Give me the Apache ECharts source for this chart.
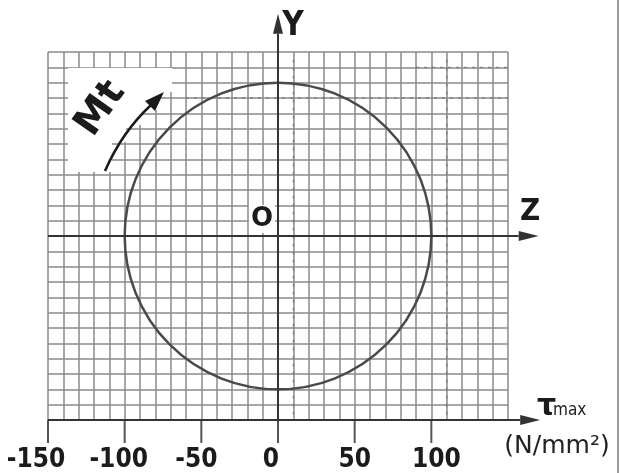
<!DOCTYPE html>
<html><head><meta charset="utf-8">
<script src="https://cdn.jsdelivr.net/npm/echarts@6/dist/echarts.min.js"></script>
<style>html,body{margin:0;padding:0;background:#fff}#c{width:622px;height:473px}</style>
</head><body><div id="c"></div>
<script>
// ---- data ----
const tickValues = [-150, -100, -50, 0, 50, 100];
const xLimits = [-150, 150];
const yLimits = [-120, 120];
const gridStep = 10;
const circleData = [[0, 0, 100]]; // centre z, centre y, radius (N/mm2)
const labels = { z: 'Z', y: 'Y', o: 'O', tau: 'τ', tauSub: 'max', unit: '(N/mm²)', moment: 'Mt' };

// ---- style / layout ----
const labelShift = [-12, -6, -5, -7, 0, 5];
const FONT_C = "'DejaVu Sans Condensed','DejaVu Sans',sans-serif";
const FONT = "'DejaVu Sans',sans-serif";
const INK = '#1b1b1b';
const GRIDC = '#8a8a8a';

const chart = echarts.init(document.getElementById('c'), null, { renderer: 'canvas' });
chart.setOption({
  animation: false,
  backgroundColor: '#fff',
  grid: { left: 48, right: 114, top: 52, bottom: 53, containLabel: false },
  xAxis: {
    type: 'value', min: xLimits[0], max: xLimits[1], interval: gridStep,
    axisLine: { show: false, onZero: false }, axisTick: { show: false }, axisLabel: { show: false },
    splitLine: { show: true, lineStyle: { color: GRIDC, width: 1.5 } }
  },
  yAxis: {
    type: 'value', min: yLimits[0], max: yLimits[1], interval: gridStep,
    axisLine: { show: false, onZero: false }, axisTick: { show: false }, axisLabel: { show: false },
    splitLine: { show: true, lineStyle: { color: GRIDC, width: 1.5 } }
  },
  series: [
    {
      type: 'custom', coordinateSystem: 'cartesian2d',
      data: circleData, clip: false, z: 5, silent: true,
      encode: { x: 0, y: 1 },
      renderItem: (params, api) => {
        const c = api.coord([api.value(0), api.value(1)]);
        const r = api.size([api.value(2), 0])[0];
        return { type: 'circle', shape: { cx: c[0], cy: c[1], r: r },
          style: { fill: 'none', stroke: '#4a4a4a', lineWidth: 2.5 } };
      }
    },
    {
      // labelled ticks on the bottom (tau) axis, placed through the x scale
      type: 'custom', coordinateSystem: 'cartesian2d', clip: false, z: 6, silent: true,
      data: tickValues.map((v, i) => [v, yLimits[0], i]),
      encode: { x: 0, y: 1 },
      renderItem: (params, api) => {
        const p = api.coord([api.value(0), api.value(1)]);
        const i = api.value(2);
        return { type: 'group', children: [
          { type: 'rect', shape: { x: p[0] - 1, y: p[1], width: 2, height: 23 }, style: { fill: '#555' } },
          { type: 'text', x: p[0] + labelShift[i], y: p[1] + 40, style: {
              text: String(api.value(0)), fontSize: 26, fontWeight: 'bold', fontFamily: FONT_C,
              fill: INK, align: 'center', verticalAlign: 'middle' } }
        ] };
      }
    }
  ]
});

// ---- decorations (axes with arrows, labels, annotation) ----
const P = (x, y) => chart.convertToPixel({ gridIndex: 0 }, [x, y]);
function arrow(p0, p1, len, hw, color, width) {
  const dx = p1[0] - p0[0], dy = p1[1] - p0[1];
  const L = Math.hypot(dx, dy), ux = dx / L, uy = dy / L;
  const b = [p1[0] - ux * len, p1[1] - uy * len];
  return [
    { type: 'line', z: 20, shape: { x1: p0[0], y1: p0[1], x2: b[0], y2: b[1] }, style: { stroke: color, lineWidth: width } },
    { type: 'polygon', z: 20, shape: { points: [p1, [b[0] - uy * hw, b[1] + ux * hw], [b[0] + uy * hw, b[1] - ux * hw]] }, style: { fill: color } }
  ];
}
function dashed(a, b) {
  return { type: 'line', z: 3, shape: { x1: a[0], y1: a[1], x2: b[0], y2: b[1] },
    style: { stroke: '#6e6e6e', lineWidth: 1, lineDash: [3, 5] } };
}
function txt(x, y, text, size, weight, family, color, align, vAlign, extra) {
  return Object.assign({ type: 'text', z: 30, x: x, y: y, style: Object.assign({
    text: text, fontSize: size, fontWeight: weight, fontFamily: family, fill: color,
    align: align, verticalAlign: vAlign }, (extra && extra.style) || {}) }, (extra && extra.el) || {});
}
const g = [];
// mask around Mt annotation
g.push({ type: 'polygon', z: 1, shape: { points: [[68,68],[172,68],[172,92],[159,92],[159,110],[142,110],[142,125],[126,125],[126,142],[112,142],[112,172],[68,172]] }, style: { fill: '#fff' } });
// faint scan marks along a few grid lines
g.push(dashed(P(10, 115), P(10, -120)));
g.push(dashed(P(110, 115), P(110, -120)));
g.push(dashed(P(-60, 90), P(150, 90)));
g.push(dashed(P(90, 110), P(150, 110)));
// Z axis
g.push(...arrow(P(xLimits[0], 0), P(170, 0), 20, 5, '#333', 2));
// Y axis
g.push(...arrow(P(0, yLimits[0]), P(0, 145), 20, 5, '#333', 2));
// tau axis (bottom)
g.push(...arrow(P(xLimits[0], yLimits[0]), P(171, yLimits[0]), 20, 5, '#333', 2));
// texts
g.push(txt(293, 26, labels.y, 33, 'bold', FONT_C, INK, 'center', 'middle'));
g.push(txt(530, 212, labels.z, 31, 'bold', FONT_C, INK, 'center', 'middle'));
g.push(txt(262, 219, labels.o, 26, 'bold', FONT, INK, 'center', 'middle', { style: { backgroundColor: '#fff', padding: [1, 2] } }));
g.push(txt(537, 422, labels.tau, 30, 'bold', FONT, INK, 'left', 'bottom'));
g.push(txt(553, 419, labels.tauSub, 17, 'normal', FONT_C, '#222', 'left', 'bottom'));
g.push(txt(557, 446, labels.unit, 25, 'normal', FONT, '#222', 'center', 'middle'));
// Mt annotation
g.push(txt(101, 109, labels.moment, 39, 'bold', FONT, INK, 'center', 'middle', { el: { rotation: 55 * Math.PI / 180 } }));
g.push({ type: 'bezierCurve', z: 30, shape: { x1: 105, y1: 171, cpx1: 122, cpy1: 132, x2: 151, y2: 105 }, style: { stroke: INK, lineWidth: 2.5, fill: 'none' } });
g.push({ type: 'polygon', z: 30, shape: { points: [[164, 92], [155, 111], [145, 101]] }, style: { fill: INK } });
// page border on the right
g.push({ type: 'line', z: 30, shape: { x1: 618, y1: 0, x2: 618, y2: 473 }, style: { stroke: '#9a9a9a', lineWidth: 2 } });
chart.setOption({ graphic: g });
</script>
</body></html>
